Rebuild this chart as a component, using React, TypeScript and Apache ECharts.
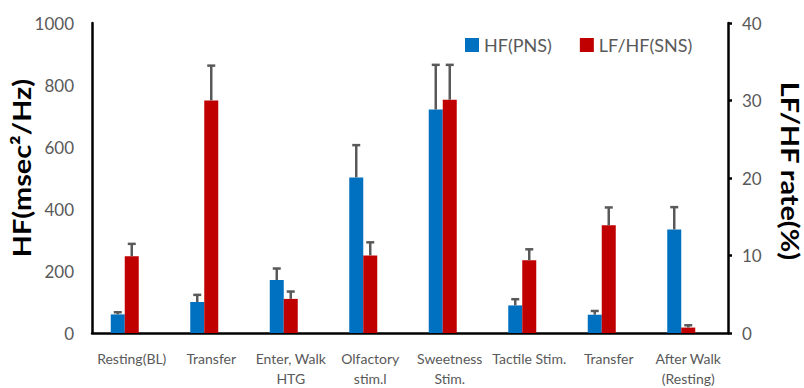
import React, { useEffect, useRef } from "react";
import * as echarts from "echarts";

const categories = [
  "Resting(BL)",
  "Transfer",
  "Enter, Walk\nHTG",
  "Olfactory\nstim.l",
  "Sweetness\nStim.",
  "Tactile Stim.",
  "Transfer",
  "After Walk\n(Resting)",
];
const hfValues = [60, 100, 171, 502, 721, 89, 59, 334];
const hfErrTop = [67, 123, 208, 606, 865, 109, 71, 406];
const lfhfValues = [9.9, 30.0, 4.4, 10.0, 30.1, 9.4, 13.9, 0.7];
const lfhfErrTop = [11.5, 34.5, 5.35, 11.7, 34.6, 10.8, 16.2, 1.0];
const leftAxisTitle = "HF(msec²/Hz)";
const rightAxisTitle = "LF/HF rate(%)";

const BLUE = "#0070C0";
const RED = "#C00000";
const GREY = "#595959";
const FONT = "Lato";
const BAR_W = 14;

function errorSeries(name: string, values: number[], tops: number[], yAxisIndex: number, offset: number) {
  return {
    type: "custom",
    name: name + "_err",
    yAxisIndex,
    silent: true,
    z: 5,
    data: values.map((v, i) => [i, v, tops[i]]),
    renderItem: (params: any, api: any) => {
      const i = api.value(0);
      const base = api.coord([i, api.value(1)]);
      const top = api.coord([i, api.value(2)]);
      const x = base[0] + offset;
      return {
        type: "group",
        children: [
          { type: "line", shape: { x1: x, y1: base[1], x2: x, y2: top[1] }, style: { stroke: GREY, lineWidth: 2.5 } },
          { type: "line", shape: { x1: x - 4, y1: top[1], x2: x + 4, y2: top[1] }, style: { stroke: GREY, lineWidth: 2.5 } },
        ],
      };
    },
  };
}

export default function App() {
  const ref = useRef<HTMLDivElement>(null);
  useEffect(() => {
    if (!ref.current) return;
    const chart = echarts.init(ref.current, null, { renderer: "svg" });
    chart.setOption({
      animation: false,
      backgroundColor: "#ffffff",
      grid: { left: 92, right: 76, top: 23, bottom: 53 },
      legend: {
        data: [
          { name: "HF(PNS)", itemStyle: { color: BLUE } },
          { name: "LF/HF(SNS)", itemStyle: { color: RED } },
        ],
        left: 460,
        top: 31,
        itemWidth: 14,
        itemHeight: 14,
        itemGap: 28,
        icon: "rect",
        textStyle: { color: GREY, fontSize: 18, fontFamily: FONT },
      },
      graphic: [
        {
          type: "text",
          x: 22,
          y: 168,
          rotation: Math.PI / 2,
          scaleX: 1.2,
          style: {
            text: leftAxisTitle,
            fill: "#000",
            font: `bold 24px ${FONT}`,
            align: "center",
            verticalAlign: "middle",
          },
        },
        {
          type: "text",
          x: 790,
          y: 171,
          rotation: -Math.PI / 2,
          scaleX: 1.2,
          style: {
            text: rightAxisTitle,
            fill: "#000",
            font: `bold 24px ${FONT}`,
            align: "center",
            verticalAlign: "middle",
          },
        },
      ],
      xAxis: {
        type: "category",
        data: categories,
        axisLine: { lineStyle: { color: "#000", width: 2.5 } },
        axisTick: { show: false },
        axisLabel: { color: GREY, fontSize: 14, fontFamily: FONT, margin: 15, lineHeight: 20, interval: 0 },
      },
      yAxis: [
        {
          type: "value",
          min: 0,
          max: 1000,
          interval: 200,
          axisLine: { show: true, lineStyle: { color: "#000", width: 2.5 } },
          axisTick: { show: false },
          splitLine: { show: false },
          axisLabel: { color: GREY, fontSize: 17, fontFamily: FONT, margin: 18, formatter: (v: number) => String(v) },
        },
        {
          type: "value",
          min: 0,
          max: 40,
          interval: 10,
          position: "right",
          axisLine: { show: true, lineStyle: { color: "#000", width: 2.5 } },
          axisTick: { show: true, inside: false, length: 4, lineStyle: { color: "#000", width: 2.5 } },
          splitLine: { show: false },
          axisLabel: { color: GREY, fontSize: 17, fontFamily: FONT, margin: 14 },
        },
      ],
      series: [
        {
          name: "HF(PNS)",
          type: "bar",
          yAxisIndex: 0,
          data: hfValues,
          barWidth: BAR_W,
          barGap: "0%",
          itemStyle: { color: BLUE },
        },
        {
          name: "LF/HF(SNS)",
          type: "bar",
          yAxisIndex: 1,
          data: lfhfValues,
          barWidth: BAR_W,
          barGap: "0%",
          itemStyle: { color: RED },
        },
        {
          name: "_spacer",
          type: "bar",
          yAxisIndex: 0,
          data: categories.map(() => null),
          barWidth: BAR_W,
          barGap: "0%",
          silent: true,
        },
        errorSeries("HF(PNS)", hfValues, hfErrTop, 0, -BAR_W),
        errorSeries("LF/HF(SNS)", lfhfValues, lfhfErrTop, 1, 0),
      ],
    });
    return () => chart.dispose();
  }, []);
  return <div ref={ref} style={{ width: 804, height: 388, position: "absolute", left: 0, top: 0 }} />;
}
